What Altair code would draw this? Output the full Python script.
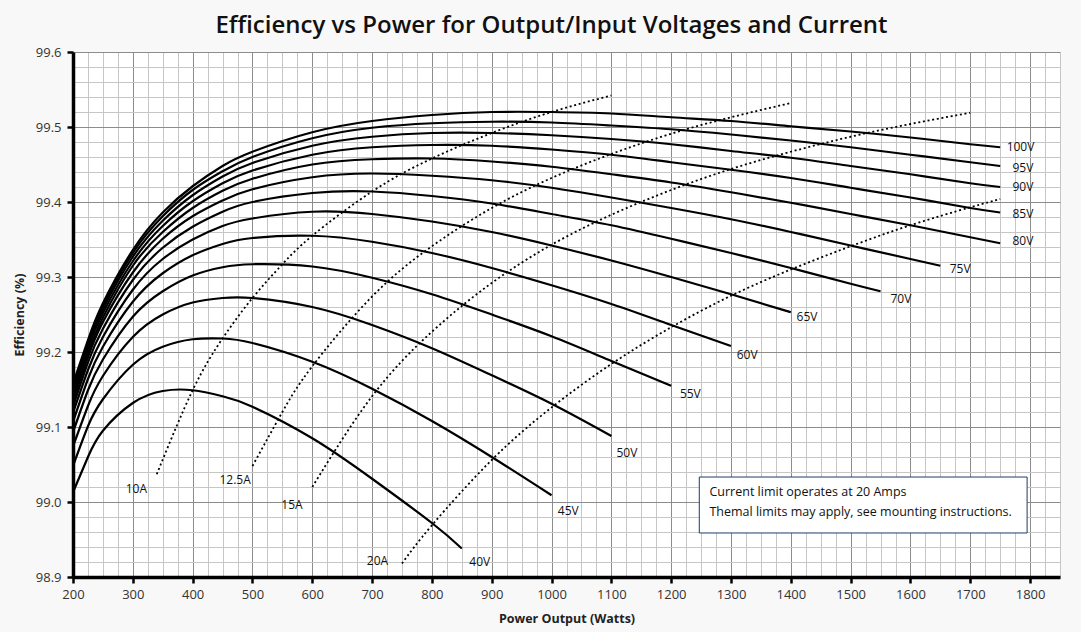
import altair as alt
import pandas as pd

TITLE = "Efficiency vs Power for Output/Input Voltages and Current"
X_TITLE = "Power Output (Watts)"
Y_TITLE = "Efficiency (%)"

# ---- voltage curves (efficiency %) ----
POWER_STEPS = [200, 225, 250, 300, 350, 400, 450, 500, 600, 700, 800, 900,
               1000, 1100, 1200, 1300, 1400, 1500, 1600, 1700]

VOLTAGES = ["40V", "45V", "50V", "55V", "60V", "65V", "70V",
            "75V", "80V", "85V", "90V", "95V", "100V"]
END_POWER = [850, 1000, 1100, 1200, 1300, 1400, 1550, 1650, 1750, 1750, 1750, 1750, 1750]

EFF_40V = [99.013, 99.060, 99.095, 99.132, 99.148, 99.149, 99.141, 99.127, 99.085, 99.031, 98.972, 98.938]
EFF_45V = [99.048, 99.101, 99.137, 99.183, 99.207, 99.217, 99.218, 99.212, 99.187, 99.151, 99.108, 99.060, 99.009]
EFF_50V = [99.074, 99.128, 99.168, 99.220, 99.250, 99.266, 99.272, 99.272, 99.260, 99.236, 99.205, 99.169, 99.131, 99.088]
EFF_55V = [99.093, 99.149, 99.190, 99.247, 99.281, 99.302, 99.313, 99.317, 99.314, 99.299, 99.277, 99.250, 99.221, 99.188, 99.155]
EFF_60V = [99.107, 99.164, 99.207, 99.267, 99.305, 99.329, 99.344, 99.352, 99.355, 99.347, 99.332, 99.312, 99.289, 99.264, 99.236, 99.208]
EFF_65V = [99.119, 99.176, 99.220, 99.283, 99.324, 99.350, 99.368, 99.378, 99.387, 99.384, 99.374, 99.360, 99.342, 99.322, 99.300, 99.277, 99.253]
EFF_70V = [99.127, 99.186, 99.231, 99.296, 99.339, 99.367, 99.387, 99.400, 99.412, 99.414, 99.408, 99.398, 99.384, 99.369, 99.351, 99.332, 99.312, 99.291, 99.281]
EFF_75V = [99.134, 99.193, 99.240, 99.306, 99.351, 99.381, 99.402, 99.417, 99.433, 99.438, 99.435, 99.429, 99.419, 99.406, 99.392, 99.377, 99.360, 99.342, 99.324, 99.315]
EFF_80V = [99.139, 99.199, 99.246, 99.315, 99.360, 99.392, 99.415, 99.431, 99.450, 99.457, 99.458, 99.454, 99.447, 99.437, 99.426, 99.413, 99.399, 99.384, 99.369, 99.353, 99.345]
EFF_85V = [99.144, 99.205, 99.252, 99.321, 99.368, 99.401, 99.425, 99.442, 99.463, 99.473, 99.476, 99.475, 99.470, 99.463, 99.453, 99.443, 99.432, 99.419, 99.406, 99.392, 99.386]
EFF_90V = [99.148, 99.209, 99.257, 99.327, 99.375, 99.409, 99.434, 99.452, 99.475, 99.487, 99.492, 99.492, 99.489, 99.484, 99.477, 99.468, 99.459, 99.448, 99.437, 99.425, 99.420]
EFF_95V = [99.152, 99.213, 99.261, 99.332, 99.381, 99.416, 99.441, 99.460, 99.485, 99.499, 99.505, 99.507, 99.506, 99.502, 99.497, 99.490, 99.482, 99.473, 99.463, 99.453, 99.448]
EFF_100V = [99.158, 99.216, 99.265, 99.336, 99.386, 99.421, 99.448, 99.467, 99.493, 99.508, 99.516, 99.520, 99.520, 99.518, 99.513, 99.508, 99.501, 99.494, 99.486, 99.477, 99.473]

EFFS = [EFF_40V, EFF_45V, EFF_50V, EFF_55V, EFF_60V, EFF_65V, EFF_70V,
        EFF_75V, EFF_80V, EFF_85V, EFF_90V, EFF_95V, EFF_100V]

# ---- constant-current (dotted) lines ----
CURRENTS = ["10A", "12.5A", "15A", "20A"]
POWER_10A = [340, 400, 450, 500, 550, 600, 700, 800, 900, 1000, 1100]
EFF_10A = [99.037, 99.149, 99.218, 99.272, 99.317, 99.355, 99.414, 99.458, 99.492, 99.520, 99.542]
POWER_12A = [500, 550, 600, 700, 800, 900, 1000, 1100, 1200, 1300, 1400]
EFF_12A = [99.048, 99.120, 99.181, 99.274, 99.341, 99.392, 99.432, 99.464, 99.491, 99.513, 99.532]
POWER_15A = [600, 700, 800, 900, 1000, 1100, 1200, 1300, 1400, 1500, 1600, 1700]
EFF_15A = [99.020, 99.141, 99.227, 99.292, 99.343, 99.383, 99.416, 99.444, 99.467, 99.487, 99.504, 99.519]
POWER_20A = [750, 800, 900, 1000, 1100, 1200, 1300, 1400, 1500, 1600, 1700, 1750]
EFF_20A = [98.918, 98.969, 99.056, 99.126, 99.184, 99.233, 99.275, 99.310, 99.341, 99.369, 99.393, 99.404]

# ---- annotation labels (data coordinates) ----
VOLT_LABEL_X = [880, 1028, 1126, 1232, 1327, 1427, 1584, 1683, 1788, 1788, 1788, 1788, 1784]
VOLT_LABEL_Y = [98.920, 98.988, 99.065, 99.144, 99.196, 99.247, 99.271, 99.311, 99.348, 99.384, 99.420, 99.446, 99.473]
CURR_LABEL_X = [306, 471, 566, 709]
CURR_LABEL_Y = [99.017, 99.030, 98.996, 98.922]

NOTE_LINES = ["Current limit operates at 20 Amps",
              "Themal limits may apply, see mounting instructions."]
NOTE_X = 1264
NOTE_Y = [99.0137, 98.987]
BOX_X = [1247, 1795]
BOX_Y = [98.9587, 99.0333]

# ---- build tables ----
rows = []
for name, end, effs in zip(VOLTAGES, END_POWER, EFFS):
    powers = [p for p in POWER_STEPS if p < end] + [end]
    assert len(powers) == len(effs), name
    for p, e in zip(powers, effs):
        rows.append({"series": name, "x": p, "y": e})
volt_df = pd.DataFrame(rows)

rows = []
for name, ps, es in zip(CURRENTS, [POWER_10A, POWER_12A, POWER_15A, POWER_20A],
                        [EFF_10A, EFF_12A, EFF_15A, EFF_20A]):
    for p, e in zip(ps, es):
        rows.append({"series": name, "x": p, "y": e})
curr_df = pd.DataFrame(rows)

label_df = pd.DataFrame({"x": VOLT_LABEL_X + CURR_LABEL_X,
                         "y": VOLT_LABEL_Y + CURR_LABEL_Y,
                         "label": VOLTAGES + CURRENTS})
note_df = pd.DataFrame({"x": [NOTE_X, NOTE_X], "y": NOTE_Y, "label": NOTE_LINES})
box_df = pd.DataFrame({"x": [BOX_X[0]], "x2": [BOX_X[1]], "y": [BOX_Y[0]], "y2": [BOX_Y[1]]})

# ---- axes ----
X_GRID = list(range(200, 1851, 25))
Y_GRID = [round(98.9 + 0.02 * i, 2) for i in range(36)]
x_major = "datum.value % 100 === 0"
y_major = "abs(datum.value * 10 - round(datum.value * 10)) < 0.001"
FONT = "Open Sans"

def cond(test, a, b):
    return {"condition": {"test": test, "value": a}, "value": b}

x_axis = alt.Axis(
    values=X_GRID, grid=True,
    gridColor=cond(x_major, "#8c8c8c", "#c6c6c6"), gridWidth=1,
    tickOpacity=cond(x_major, 1, 0), tickColor="black", tickWidth=2.5, tickSize=6,
    domainColor="black", domainWidth=3.5,
    format="d", labelExpr=f"{x_major} ? datum.label : ''",
    labelFlush=False, labelOverlap=False, labelFont=FONT, labelFontSize=13,
    labelColor="#333", labelPadding=5,
    title=X_TITLE, titleFont=FONT, titleFontSize=12.5, titleFontWeight="bold",
    titleColor="#222", titlePadding=11,
)
y_axis = alt.Axis(
    values=Y_GRID, grid=True,
    gridColor=cond(y_major, "#8c8c8c", "#c6c6c6"), gridWidth=1,
    tickOpacity=cond(y_major, 1, 0), tickColor="black", tickWidth=2.5, tickSize=6,
    domainColor="black", domainWidth=3.5,
    labelExpr=f"{y_major} ? format(datum.value, '.1f') : ''",
    labelFlush=False, labelOverlap=False, labelFont=FONT, labelFontSize=13,
    labelColor="#333", labelPadding=6,
    title=Y_TITLE, titleFont=FONT, titleFontSize=12.5, titleFontWeight="bold",
    titleColor="#222", titlePadding=9,
)

X = alt.X("x:Q", scale=alt.Scale(domain=[200, 1850], nice=False, zero=False), axis=x_axis)
Y = alt.Y("y:Q", scale=alt.Scale(domain=[98.9, 99.6], nice=False, zero=False), axis=y_axis)

volt_lines = alt.Chart(volt_df).mark_line(
    color="black", strokeWidth=2.2, interpolate="natural", strokeCap="butt"
).encode(x=X, y=Y, detail="series:N")

curr_lines = alt.Chart(curr_df).mark_line(
    color="black", strokeWidth=1.8, strokeDash=[2, 2.7], interpolate="natural"
).encode(x=X, y=Y, detail="series:N")

labels = alt.Chart(label_df).mark_text(
    font=FONT, fontSize=12, color="#111", align="center", baseline="middle"
).encode(x=X, y=Y, text="label:N")

box = alt.Chart(box_df).mark_rect(
    fill="white", stroke="#1f3a66", strokeWidth=1
).encode(x=X, x2="x2:Q", y=Y, y2="y2:Q")

note = alt.Chart(note_df).mark_text(
    font=FONT, fontSize=12.5, color="#111", align="left", baseline="middle"
).encode(x=X, y=Y, text="label:N")

chart = alt.layer(volt_lines, curr_lines, labels, box, note).properties(
    width=987, height=525,
    padding={"left": 73, "top": 52, "right": 21, "bottom": 55},
    autosize=alt.AutoSizeParams(type="none"),
    title=alt.TitleParams(TITLE, font=FONT, fontSize=24, fontWeight=600,
                          color="#111", anchor="middle", dx=-15, offset=8),
).configure(background="#f8f8f8").configure_view(fill="white", strokeWidth=0)

chart.save("out.html", embed_options={"renderer": "svg", "actions": False})
